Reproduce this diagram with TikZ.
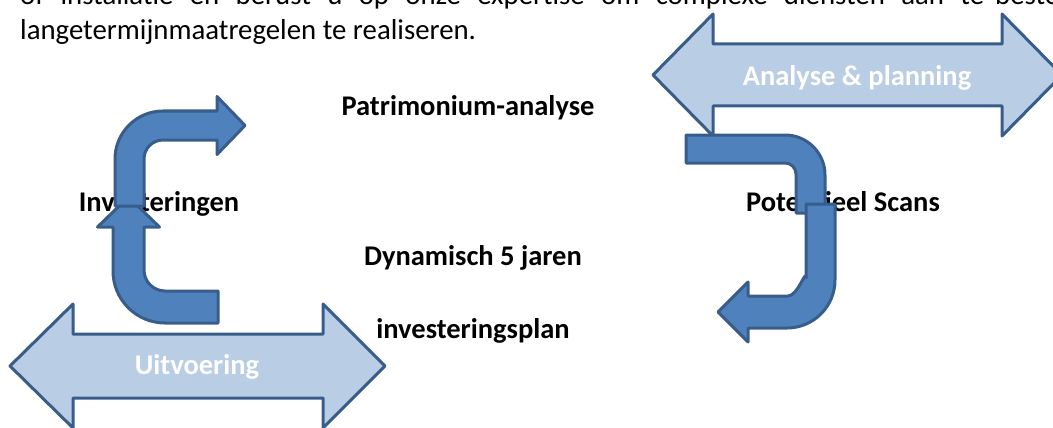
\documentclass[tikz,border=0pt]{standalone}
\usepackage{fontspec}
\setmainfont{Carlito}
\definecolor{dkfill}{HTML}{4F81BD}
\definecolor{dkline}{HTML}{385D8A}
\definecolor{ltfill}{HTML}{B9CDE5}
\begin{document}
\begin{tikzpicture}[x=1pt,y=-1pt,
  txt/.style={inner sep=0pt,font=\fontsize{28.8}{34}\selectfont},
  lbl/.style={txt,font=\fontsize{28.5}{34}\selectfont\bfseries,anchor=base},
  wlbl/.style={lbl,text=white},
  dbl/.style={fill=ltfill,draw=dkline,line width=3pt,line join=round},
  bent/.style={fill=dkfill,draw=dkline,line width=3pt,line join=round}]
\useasboundingbox (0,0) rectangle (1053,428);
% paragraph text
\node[txt,anchor=base west] (l1a) at (20,5) {\makebox[964pt][s]{of installatie en berust u op onze expertise om complexe diensten aan te}};
\node[txt,anchor=base west] (l1b) at (995,5) {besteden};
\node[txt,anchor=base west] (l2) at (20,40) {langetermijnmaatregelen te realiseren.};
% black labels
\node[lbl] (patr) at (468,115) {Patrimonium-analyse};
\node[lbl] (dyn) at (473,265) {Dynamisch 5 jaren};
\node[lbl] (inv) at (473,338) {investeringsplan};
\node[lbl] (invest) at (159,211) {Investeringen};
\node[lbl] (pot) at (843,211) {Potentieel Scans};
% double arrows
\draw[dbl] (653,75) -- (713,14) -- (713,44) -- (1002,44) -- (1002,14) -- (1062,75)
  -- (1002,136) -- (1002,106) -- (713,106) -- (713,136) -- cycle;
\node[wlbl] (ana) at (857,85) {Analyse \& planning};
\draw[dbl] (10,366) -- (73,304) -- (73,334) -- (323,334) -- (323,304) -- (385,366)
  -- (323,428) -- (323,398) -- (73,398) -- (73,428) -- cycle;
\node[wlbl] (uit) at (197,374) {Uitvoering};
% left bent arrows
\draw[bent] (218,323) -- (165,323) .. controls (136.3,323) and (113,299.7) .. (113,271)
  -- (113,227) -- (97.5,227) -- (128.5,197) -- (159.5,227) -- (144,227) -- (144,270)
  .. controls (144,281.6) and (153.4,291) .. (165,291) -- (218,291) -- cycle;
\draw[bent] (115,206) -- (115,159) .. controls (115,132.5) and (136.5,111) .. (163,111)
  -- (217,111) -- (217,96.5) -- (245,125.5) -- (217,154.5) -- (217,140) -- (163,140)
  .. controls (152.5,140) and (144,148.5) .. (144,159) -- (144,206) -- cycle;
% right bent arrows
\draw[bent] (686,135) -- (785,135) .. controls (807.1,135) and (825,152.9) .. (825,175)
  -- (825,213) -- (796,213) -- (796,174) .. controls (796,167.9) and (791.1,163) .. (785,163)
  -- (686,163) -- cycle;
\draw[bent] (806,204) -- (835,204) -- (835,280) .. controls (835,306.5) and (813.5,328) .. (787,328)
  -- (748,328) -- (748,342) -- (718,312) -- (748,282) -- (748,296) -- (788,296)
  .. controls (797.9,296) and (806,268.1) .. (806,278) -- cycle;
\end{tikzpicture}
\end{document}
